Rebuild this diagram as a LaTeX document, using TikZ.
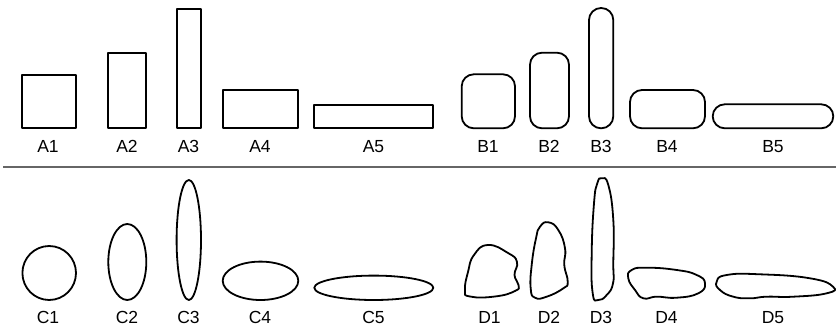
\documentclass[tikz,border=0pt]{standalone}
\usepackage{fontspec}
\setmainfont{Liberation Sans}
\begin{document}
\begin{tikzpicture}[x=1pt,y=-1pt,
  shp/.style={draw=black,line width=1.8pt,line join=round},
  rnd/.style={shp,rounded corners=12pt},
  blob/.style={shp},
  lbl/.style={anchor=base,font=\fontsize{17.5}{20}\selectfont,inner sep=0pt},
  divider/.style={draw=black!60,line width=1.8pt}]
\useasboundingbox (0,0) rectangle (836,329);
% A row
\draw[shp] (22.3,75) rectangle (75.7,128.3);
\draw[shp] (108.3,52.7) rectangle (146.3,128.3);
\draw[shp] (177,8.7) rectangle (201,128.3);
\draw[shp] (222.7,90.3) rectangle (297.7,128.3);
\draw[shp] (314.3,104.7) rectangle (433.3,128.3);
\node[lbl] (a1) at (48,152.5) {A1};
\node[lbl] (a2) at (127,152.5) {A2};
\node[lbl] (a3) at (188.5,152.5) {A3};
\node[lbl] (a4) at (260,152.5) {A4};
\node[lbl] (a5) at (373.5,152.5) {A5};
% B row
\draw[rnd] (461.7,74.3) rectangle (515,128.3);
\draw[rnd] (530,52.7) rectangle (569,128.3);
\draw[rnd] (589,8) rectangle (613.3,128.3);
\draw[rnd] (630,90) rectangle (705,128.3);
\draw[rnd] (712.7,104.3) rectangle (833.3,128.3);
\node[lbl] (b1) at (488,152.5) {B1};
\node[lbl] (b2) at (549,152.5) {B2};
\node[lbl] (b3) at (601,152.5) {B3};
\node[lbl] (b4) at (667,152.5) {B4};
\node[lbl] (b5) at (773,152.5) {B5};
% divider
\coordinate (dl) at (3.3,166.7);
\coordinate (dr) at (836,166.7);
\draw[divider] (dl) -- (dr);
% C row
\draw[shp] (49.2,273) ellipse [x radius=26.8,y radius=27];
\draw[shp] (127.3,262) ellipse [x radius=19,y radius=38];
\draw[shp] (188.8,240) ellipse [x radius=12.2,y radius=60];
\draw[shp] (260.5,280.8) ellipse [x radius=37.8,y radius=19.2];
\draw[shp] (373.8,287.8) ellipse [x radius=59.5,y radius=12.2];
\node[lbl] (c1) at (48,323.5) {C1};
\node[lbl] (c2) at (127,323.5) {C2};
\node[lbl] (c3) at (188.5,323.5) {C3};
\node[lbl] (c4) at (260,323.5) {C4};
\node[lbl] (c5) at (373.5,323.5) {C5};
% D row
\draw[blob] plot[smooth cycle,tension=0.85] coordinates {(488,245) (508,253) (517,262) (514.5,275) (518.5,285) (515,291) (495,296.5) (470,296.5) (465,290) (468,272) (474,255)};
\draw[blob] plot[smooth cycle,tension=0.85] coordinates {(548.3,222.3) (558.3,230) (565,248.3) (564.3,265) (567.7,281.7) (563.3,288.3) (546.7,296.7) (535,297.7) (530.7,288.3) (531.7,265) (536,238.3) (540,226.7)};
\draw[blob] plot[smooth cycle,tension=0.85] coordinates {(601.7,178.3) (608.3,185) (613.3,220) (613.3,263.3) (613,283.3) (606.7,295) (598.3,300) (592.7,293.3) (591.7,253.3) (594,203.3) (597.3,183.3)};
\draw[blob] plot[smooth cycle,tension=0.85] coordinates {(631.7,270) (646.7,267.7) (676.7,270) (696.7,275) (705,283.3) (698.3,293.3) (676.7,297.7) (656.7,296.7) (643.3,298.3) (635,290) (628.3,278.3)};
\draw[blob] plot[smooth cycle,tension=0.85] coordinates {(716.7,281.7) (726.7,275) (760,274.3) (810,278.3) (833,286.7) (826.7,293.3) (793.3,296.7) (766.7,296.7) (750,298.3) (733.3,296.7) (720,290)};
\node[lbl] (d1) at (489.5,323.5) {D1};
\node[lbl] (d2) at (549,323.5) {D2};
\node[lbl] (d3) at (601,323.5) {D3};
\node[lbl] (d4) at (666.5,323.5) {D4};
\node[lbl] (d5) at (773,323.5) {D5};
\end{tikzpicture}
\end{document}
